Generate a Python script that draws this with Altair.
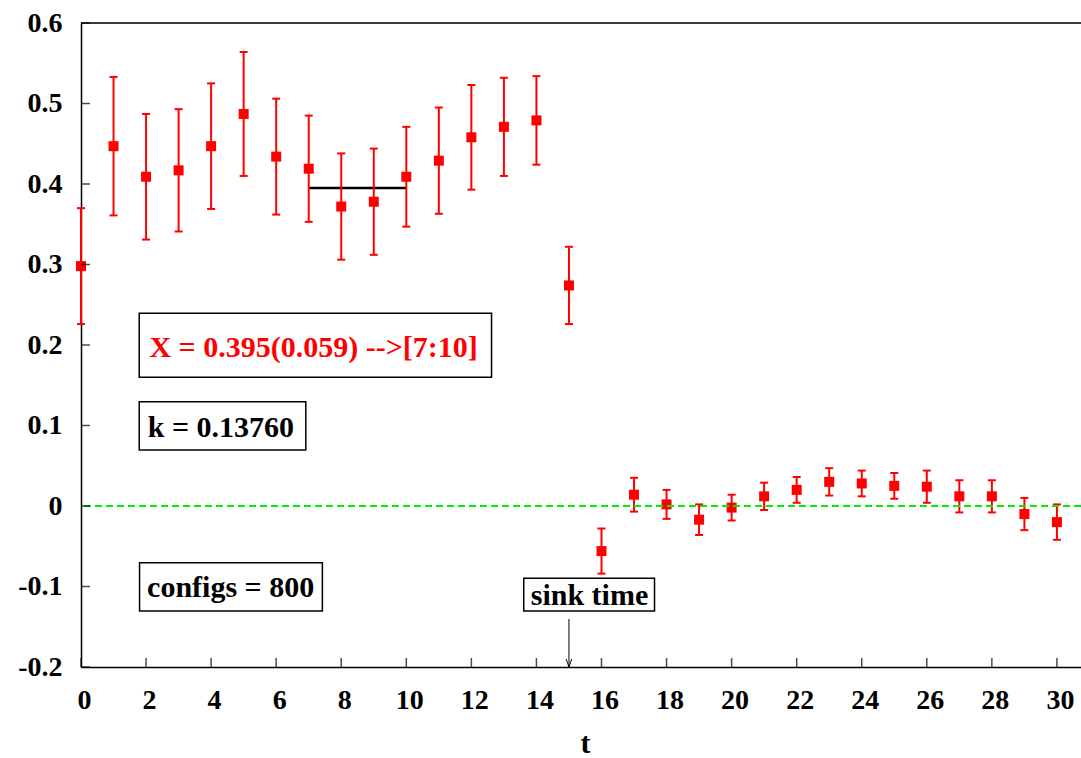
import altair as alt
import pandas as pd

# ---- data ----
t_vals = list(range(31))
x_vals = [0.298, 0.447, 0.409, 0.417, 0.447, 0.487, 0.434, 0.419, 0.372, 0.378,
          0.409, 0.429, 0.458, 0.471, 0.479, 0.274, -0.056, 0.014, 0.002, -0.017,
          -0.002, 0.012, 0.020, 0.030, 0.028, 0.025, 0.024, 0.012, 0.012, -0.010,
          -0.020]
x_errs = [0.072, 0.086, 0.078, 0.076, 0.078, 0.077, 0.072, 0.066, 0.066, 0.066,
          0.062, 0.066, 0.065, 0.061, 0.055, 0.048, 0.028, 0.021, 0.018, 0.019,
          0.016, 0.017, 0.016, 0.017, 0.016, 0.016, 0.020, 0.020, 0.020, 0.020,
          0.022]

fit_value = 0.395
fit_range = [7, 10]
sink_time = 15

x_ticks = list(range(0, 31, 2))
y_ticks = [-0.2, -0.1, 0.0, 0.1, 0.2, 0.3, 0.4, 0.5, 0.6]

# annotation boxes (data coordinates): label, x1, x2, y1, y2, text x, text y, colour
box_labels = ["X = 0.395(0.059) -->[7:10]", "k = 0.13760", "configs = 800", "sink time"]
box_x1 = [1.79, 1.79, 1.80, 13.61]
box_x2 = [12.62, 6.91, 7.42, 17.63]
box_y1 = [0.2394, 0.1296, -0.0704, -0.0898]
box_y2 = [0.1599, 0.0696, -0.1304, -0.1304]
text_x = [7.15, 4.30, 4.60, 15.63]
text_y = [0.1847, 0.0861, -0.1127, -0.1230]
text_colors = ["#ff0000", "#000000", "#000000", "#000000"]
arrow_top = -0.1404

XDOM = [0, 30.74]
YDOM = [-0.2, 0.6]
FONT = "Liberation Serif"
W, H = 1000, 644

df = pd.DataFrame({"t": t_vals, "v": x_vals, "e": x_errs})
df["lo"] = df["v"] - df["e"]
df["hi"] = df["v"] + df["e"]

xs = alt.Scale(domain=XDOM, nice=False, zero=False)
ys = alt.Scale(domain=YDOM, nice=False, zero=False)

base = alt.Chart(df)

points_x = alt.X("t:Q", scale=xs,
                 axis=alt.Axis(values=x_ticks, tickSize=0, labelPadding=19, labelOffset=3,
                               labelFontSize=28, labelFont=FONT, labelFontWeight="bold",
                               labelColor="black", domainColor="black", domainWidth=1.5,
                               title="t", titleFont=FONT, titleFontSize=30,
                               titleFontWeight="bold", titlePadding=14, titleColor="black",
                               titleX=504,
                               grid=False, labelFlush=False, labelOverlap=False))
points_y = alt.Y("v:Q", scale=ys,
                 axis=alt.Axis(values=y_ticks, tickSize=0, labelPadding=19,
                               labelFontSize=28, labelFont=FONT, labelFontWeight="bold",
                               labelColor="black", domainColor="black", domainWidth=1.5,
                               title=None, grid=False, labelFlush=False, labelOverlap=False,
                               labelExpr="abs(datum.value) < 1e-9 ? '0' : (datum.value < 0 ? '-' + format(-datum.value, '.1f') : format(datum.value, '.1f'))"))

top_border = alt.Chart(pd.DataFrame({"a": [0]})).mark_rule(color="black", strokeWidth=1.5).encode(
    x=alt.value(0), x2=alt.value(W), y=alt.value(0))

zero_line = alt.Chart(pd.DataFrame({"y": [0.0]})).mark_rule(
    color="#00f000", strokeWidth=2, strokeDash=[7, 4]).encode(y=alt.Y("y:Q", scale=ys))

fit_line = alt.Chart(pd.DataFrame({"t1": [fit_range[0]], "t2": [fit_range[1]], "y": [fit_value]})).mark_rule(
    color="black", strokeWidth=2.5).encode(
    x=alt.X("t1:Q", scale=xs), x2="t2:Q", y=alt.Y("y:Q", scale=ys))

err = base.mark_rule(color="#ff0000", strokeWidth=2).encode(
    x=alt.X("t:Q", scale=xs), y=alt.Y("lo:Q", scale=ys), y2="hi:Q")
cap_lo = base.mark_tick(color="#ff0000", orient="horizontal", size=8, thickness=2, opacity=1).encode(
    x=alt.X("t:Q", scale=xs), y=alt.Y("lo:Q", scale=ys))
cap_hi = base.mark_tick(color="#ff0000", orient="horizontal", size=8, thickness=2, opacity=1).encode(
    x=alt.X("t:Q", scale=xs), y=alt.Y("hi:Q", scale=ys))
pts = base.mark_square(color="#ff0000", size=100, opacity=1).encode(x=points_x, y=points_y)

xt = alt.Chart(pd.DataFrame({"t": x_ticks})).mark_tick(
    color="black", orient="vertical", size=9, thickness=1.5).encode(
    x=alt.X("t:Q", scale=xs), y=alt.value(H - 4.5))
yt = alt.Chart(pd.DataFrame({"y": y_ticks})).mark_tick(
    color="black", orient="horizontal", size=9, thickness=1.5).encode(
    y=alt.Y("y:Q", scale=ys), x=alt.value(4.5))

boxes_df = pd.DataFrame({"label": box_labels, "x1": box_x1, "x2": box_x2, "y1": box_y1,
                         "y2": box_y2, "tx": text_x, "ty": text_y, "c": text_colors})
boxes = alt.Chart(boxes_df).mark_rect(fill="white", stroke="black", strokeWidth=1.5).encode(
    x=alt.X("x1:Q", scale=xs), x2="x2:Q", y=alt.Y("y1:Q", scale=ys), y2="y2:Q")
texts = alt.Chart(boxes_df).mark_text(font=FONT, fontSize=30, fontWeight="bold",
                                       align="center", baseline="alphabetic").encode(
    x=alt.X("tx:Q", scale=xs), y=alt.Y("ty:Q", scale=ys),
    text="label:N", color=alt.Color("c:N", scale=None))

arrow_df = pd.DataFrame({"t": [sink_time], "y1": [arrow_top], "y2": [YDOM[0]]})
arrow_shaft = alt.Chart(arrow_df).mark_rule(color="black", strokeWidth=1).encode(
    x=alt.X("t:Q", scale=xs), y=alt.Y("y1:Q", scale=ys), y2="y2:Q")
arrow_head = alt.Chart(arrow_df).mark_point(
    shape="M-0.7,-2L0,0L0.7,-2", filled=False, stroke="black", strokeWidth=1, size=64, opacity=1).encode(
    x=alt.X("t:Q", scale=xs), y=alt.Y("y2:Q", scale=ys))

chart = alt.layer(
    top_border, fit_line, err, cap_lo, cap_hi, pts, zero_line, xt, yt,
    boxes, texts, arrow_shaft, arrow_head
).properties(
    width=W, height=H,
    autosize=alt.AutoSizeParams(type="none"),
    padding={"left": 81, "top": 23, "right": 0, "bottom": 91},
).configure_view(stroke=None).configure(background="white")

chart.save("out.html", embed_options={"renderer": "svg", "actions": False})
